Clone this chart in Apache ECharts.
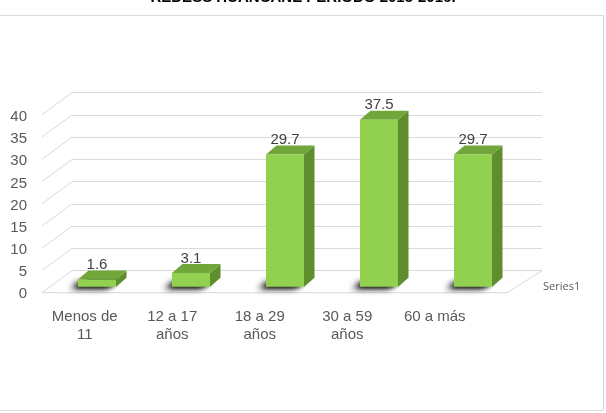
<!DOCTYPE html>
<html>
<head>
<meta charset="utf-8">
<script src="https://cdn.jsdelivr.net/npm/echarts@6/dist/echarts.min.js"></script>
<style>
html, body { margin: 0; padding: 0; background: #fff; }
#main { width: 606px; height: 413px; }
</style>
</head>
<body>
<div id="main"></div>
<script>
const titleText = 'REDESS HUANCANE PERIODO 2015-2016.'
const categories = ['Menos de\n11', '12 a 17\naños', '18 a 29\naños', '30 a 59\naños', '60 a más']
const values = [1.6, 3.1, 29.7, 37.5, 29.7]
const yTicks = [0, 5, 10, 15, 20, 25, 30, 35, 40]
const seriesName = 'Series1'

// perspective offsets (back wall -> front edge)
const wallDX = -30, wallDY = 22
const barDX = -22, barDY = 16
const depthX = 10.5, depthY = -9
const barHalf = 19
const gridColor = '#d9d9d9'

const myChart = echarts.init(document.getElementById('main'))

myChart.setOption({
    animation: false,
    textStyle: { fontFamily: 'Liberation Sans, Arial, sans-serif' },
    title: {
        text: titleText,
        left: 'center',
        top: -10,
        padding: 0,
        textStyle: { fontSize: 15, fontWeight: 'bold', color: '#000' }
    },
    legend: {
        data: [seriesName],
        icon: 'none',
        itemWidth: 0,
        left: 533,
        top: 275,
        selectedMode: false,
        textStyle: { fontSize: 11, color: '#595959', fontFamily: 'Open Sans' }
    },
    graphic: [{
        type: 'rect',
        silent: true,
        shape: { x: -1.5, y: 15.5, width: 605, height: 395 },
        style: { fill: 'none', stroke: gridColor, lineWidth: 1 }
    }],
    grid: [
        // back wall
        { left: 72, right: 64, top: 92.7, bottom: 142.3 },
        // front edge: axis labels
        { left: 41, right: 127.5, top: 117, bottom: 119 }
    ],
    xAxis: [
        {
            gridIndex: 0, type: 'category', data: categories,
            axisLine: { show: false }, axisTick: { show: false }, axisLabel: { show: false }
        },
        {
            gridIndex: 1, type: 'category', data: categories,
            axisLine: { show: false }, axisTick: { show: false },
            axisLabel: { color: '#595959', fontSize: 15, lineHeight: 18, margin: 14, interval: 0 }
        }
    ],
    yAxis: [
        {
            gridIndex: 0, type: 'value', min: 0, max: 40, interval: 5,
            axisLabel: { show: false }, axisLine: { show: false }, axisTick: { show: false },
            splitLine: { lineStyle: { color: gridColor, width: 1 } }
        },
        {
            gridIndex: 1, type: 'value', min: 0, max: 40, interval: 5,
            axisLine: { show: false }, axisTick: { show: false }, splitLine: { show: false },
            axisLabel: { color: '#595959', fontSize: 15, margin: 14 }
        }
    ],
    series: [
        {
            // diagonal part of the gridlines and the floor
            type: 'custom',
            name: 'walls',
            xAxisIndex: 0,
            yAxisIndex: 0,
            silent: true,
            z: 1,
            data: yTicks.map(v => [0, v]),
            renderItem: function (params, api) {
                const cs = params.coordSys
                const y = api.coord([0, api.value(1)])[1]
                const x = cs.x
                const children = [{
                    type: 'line',
                    shape: { x1: x, y1: y, x2: x + wallDX, y2: y + wallDY },
                    style: { stroke: gridColor, lineWidth: 1 }
                }]
                if (api.value(1) === 0) {
                    const xr = cs.x + cs.width
                    children.push({
                        type: 'polyline',
                        shape: { points: [[x + wallDX, y + wallDY], [xr - 35, y + wallDY], [xr, y]] },
                        style: { stroke: gridColor, lineWidth: 1, fill: null }
                    })
                }
                return { type: 'group', children: children }
            }
        },
        {
            type: 'custom',
            name: seriesName,
            xAxisIndex: 0,
            yAxisIndex: 0,
            z: 3,
            data: values.map((v, i) => [i, v]),
            renderItem: function (params, api) {
                const top = api.coord([api.value(0), api.value(1)])
                const base = api.coord([api.value(0), 0])
                const cx = top[0] + barDX
                const yT = top[1] + barDY
                const yB = base[1] + barDY
                const xl = cx - barHalf
                const xr = cx + barHalf
                const basePts = [[xl + 2, yB - 1], [xr, yB - 1], [xr + depthX - 2, yB + depthY + 1], [xl + depthX, yB + depthY + 1]]
                return {
                    type: 'group',
                    children: [
                        {
                            // soft shadow under the base, mostly hidden by the bar
                            type: 'polygon',
                            shape: { points: basePts },
                            style: {
                                fill: '#222',
                                shadowBlur: 6,
                                shadowColor: 'rgba(0,0,0,0.95)',
                                shadowOffsetX: -10,
                                shadowOffsetY: 3
                            }
                        },
                        {
                            type: 'polygon',
                            shape: { points: basePts },
                            style: {
                                fill: '#222',
                                shadowBlur: 4,
                                shadowColor: 'rgba(0,0,0,0.7)',
                                shadowOffsetX: -5,
                                shadowOffsetY: 2
                            }
                        },
                        {
                            type: 'polygon',
                            shape: { points: [[xr, yT], [xr + depthX, yT + depthY], [xr + depthX, yB + depthY], [xr, yB]] },
                            style: { fill: '#5e8e2d' }
                        },
                        {
                            type: 'polygon',
                            shape: { points: [[xl, yT], [xl + depthX, yT + depthY], [xr + depthX, yT + depthY], [xr, yT]] },
                            style: { fill: '#71a63b' }
                        },
                        {
                            type: 'rect',
                            shape: { x: xl, y: yT, width: xr - xl, height: yB - yT },
                            style: { fill: '#92d050' }
                        },
                        {
                            type: 'text',
                            style: {
                                text: String(api.value(1)),
                                x: cx,
                                y: yT + depthY + 2,
                                align: 'center',
                                verticalAlign: 'bottom',
                                fill: '#404040',
                                fontSize: 15,
                                fontFamily: 'Liberation Sans, Arial, sans-serif'
                            }
                        }
                    ]
                }
            }
        }
    ]
})

window.addEventListener('resize', () => {
    myChart.resize()
})
</script>
</body>
</html>
